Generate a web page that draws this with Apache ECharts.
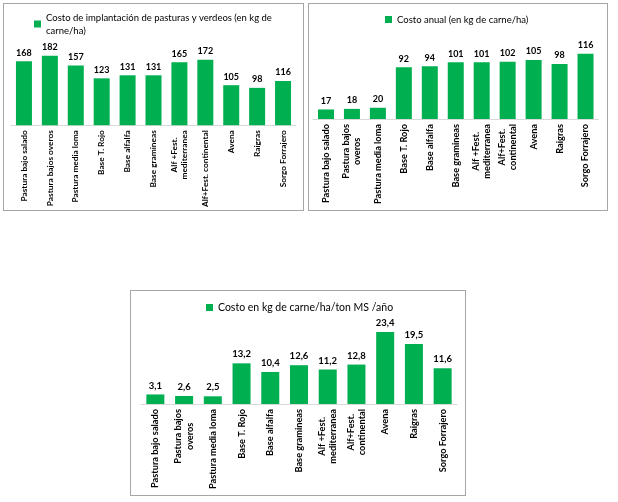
<!DOCTYPE html>
<html><head><meta charset="utf-8">
<script src="https://cdn.jsdelivr.net/npm/echarts@6/dist/echarts.min.js"></script>
<style>
body{margin:0;background:#fff;}
.box{position:absolute;border:1px solid #a6a6a6;box-sizing:border-box;background:#fff;}
</style></head><body>
<div id="c1" class="box" style="left:3px;top:3px;width:301px;height:208px"></div>
<div id="c2" class="box" style="left:308px;top:3px;width:300px;height:208px"></div>
<div id="c3" class="box" style="left:130px;top:290px;width:336px;height:206px"></div>
<script>
const categories1 = ['Pastura bajo salado','Pastura bajos overos','Pastura media loma','Base T. Rojo','Base alfalfa','Base gramineas','Alf +Fest.\nmediterranea','Alf+Fest. continental','Avena','Raigras','Sorgo Forrajero'];
const categories23 = ['Pastura bajo salado','Pastura bajos\noveros','Pastura media loma','Base T. Rojo','Base alfalfa','Base gramineas','Alf +Fest.\nmediterranea','Alf+Fest.\ncontinental','Avena','Raigras','Sorgo Forrajero'];
const name1 = 'Costo de implantación de pasturas y verdeos (en kg de\ncarne/ha)';
const values1 = [168,182,157,123,131,131,165,172,105,98,116];
const name2 = 'Costo anual (en kg de carne/ha)';
const values2 = [17,18,20,92,94,101,101,102,105,98,116];
const name3 = 'Costo en kg de carne/ha/ton MS /año';
const values3 = [3.1,2.6,2.5,13.2,10.4,12.6,11.2,12.8,23.4,19.5,11.6];

const FONT = 'Lato';
const GREEN = '#00b050';

function build(id, cats, vals, name, cfg) {
  const chart = echarts.init(document.getElementById(id), null, {renderer:'canvas'});
  chart.setOption({
    animation:false,
    textStyle:{fontFamily:FONT},
    legend:{
      left:cfg.legendLeft, top:cfg.legendTop, padding:0, icon:'rect', itemWidth:7, itemHeight:7, itemGap:5,
      textStyle:{fontFamily:FONT, fontSize:cfg.legendSize, color:'#000', lineHeight:13},
      data:[name]
    },
    grid:{left:cfg.left, right:cfg.right, top:cfg.top, bottom:cfg.bottom, containLabel:false},
    xAxis:{
      type:'category', data:cats,
      axisLine:{lineStyle:{color:'#d9d9d9', width:1}},
      axisTick:{show:false},
      axisLabel:{
        rotate:90, interval:0, margin:5,
        formatter: v => v.split('\n').map(s => '{c|' + s + '}').join('\n'),
        rich:{c:{align:'center', fontFamily:FONT, fontSize:cfg.catSize, fontWeight:'bold', color:'#000', lineHeight:cfg.catSize + 2}}
      }
    },
    yAxis:{type:'value', min:0, max:cfg.max, show:false, splitLine:{show:false}},
    series:[{
      name:name, type:'bar', data:vals, barWidth:cfg.barWidth,
      itemStyle:{color:GREEN},
      label:{show:true, position:'top', distance:4, fontFamily:FONT, fontWeight:'bold', fontSize:cfg.valSize, color:'#000',
        formatter: p => String(p.value).replace('.', ',')}
    }]
  });
}

build('c1', categories1, values1, name1, {left:7, right:7, top:45, bottom:82, max:200, barWidth:16, legendLeft:30, legendTop:7, legendSize:9.5, catSize:8.3, valSize:9});
build('c2', categories23, values2, name2, {left:4, right:8.5, top:42, bottom:91, max:130, barWidth:16, legendLeft:76, legendTop:9, legendSize:9.5, catSize:9.2, valSize:9});
build('c3', categories23, values3, name3, {left:10, right:8, top:36, bottom:91, max:25, barWidth:18, legendLeft:75, legendTop:10, legendSize:10.5, catSize:9.2, valSize:9.5});
</script>
</body></html>
